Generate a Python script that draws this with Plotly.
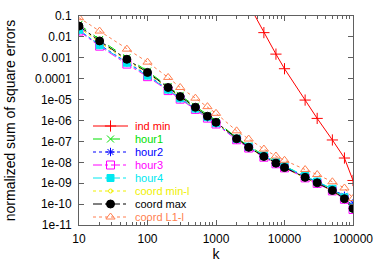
import plotly.graph_objects as go

k = [10, 20, 50, 100, 200, 300, 500, 750, 1000, 2000, 3000, 5000, 7500,
     10000, 20000, 30000, 50000, 75000, 100000]

k_ind = [3000, 5000, 7500, 10000, 20000, 30000, 50000, 75000, 100000]
ind_min = [0.36, 0.016, 1.5e-3, 3.0e-4, 9.5e-6, 1.26e-6, 1.17e-7, 1.6e-8, 1.35e-9]

hour1 = [4.0e-2, 7.5e-3, 1.0e-3, 2.3e-4, 4.2e-5, 1.6e-5, 4.8e-6, 1.8e-6, 9.5e-7,
         1.5e-7, 6.0e-8, 2.2e-8, 1.05e-8, 6.6e-9, 2.2e-9, 1.2e-9, 5.2e-10, 2.1e-10, 8.0e-11]
hour2 = [2.0e-2, 4.2e-3, 6.0e-4, 1.5e-4, 3.0e-5, 1.15e-5, 3.6e-6, 1.4e-6, 7.2e-7,
         1.25e-7, 5.0e-8, 1.85e-8, 9.5e-9, 6.0e-9, 2.0e-9, 1.15e-9, 5.2e-10, 2.5e-10, 1.1e-10]
hour3 = [1.9e-2, 3.6e-3, 5.0e-4, 1.25e-4, 2.7e-5, 1.05e-5, 3.4e-6, 1.3e-6, 6.8e-7,
         1.2e-7, 4.8e-8, 1.75e-8, 8.5e-9, 5.4e-9, 1.8e-9, 9.8e-10, 4.3e-10, 1.7e-10, 5.5e-11]
hour4 = [2.2e-2, 4.0e-3, 5.8e-4, 1.4e-4, 3.0e-5, 1.15e-5, 3.7e-6, 1.45e-6, 7.5e-7,
         1.35e-7, 5.6e-8, 2.1e-8, 1.0e-8, 6.5e-9, 2.2e-9, 1.2e-9, 5.4e-10, 2.1e-10, 6.8e-11]
coord_min_l = [2.8e-2, 5.5e-3, 7.5e-4, 1.8e-4, 3.5e-5, 1.3e-5, 4.0e-6, 1.5e-6, 7.8e-7,
               1.3e-7, 5.0e-8, 1.8e-8, 8.8e-9, 5.4e-9, 1.8e-9, 1.0e-9, 4.3e-10, 1.6e-10, 6.5e-11]
coord_max = [3.3e-2, 6.4e-3, 8.5e-4, 2.0e-4, 3.8e-5, 1.4e-5, 4.3e-6, 1.6e-6, 8.2e-7,
             1.35e-7, 5.2e-8, 1.9e-8, 9.1e-9, 5.6e-9, 1.9e-9, 1.04e-9, 4.5e-10, 1.8e-10, 6.2e-11]
coord_l1_l = [8.3e-2, 1.9e-2, 2.6e-3, 6.2e-4, 1.15e-4, 3.8e-5, 1.17e-5, 4.6e-6, 2.2e-6,
              3.2e-7, 1.3e-7, 4.3e-8, 2.0e-8, 1.25e-8, 4.5e-9, 2.6e-9, 1.17e-9, 5.9e-10, 1.85e-10]

x_tickvals = [10, 100, 1000, 10000, 100000]
x_ticktext = ["10", "100", "1000", "10000", "100000"]
x_minor_tickvals = [m * d for d in (10, 100, 1000, 10000) for m in range(2, 10)]
y_tickvals = [1e-1, 1e-2, 1e-3, 1e-4, 1e-5, 1e-6, 1e-7, 1e-8, 1e-9, 1e-10, 1e-11]
y_ticktext = ["0.1", "0.01", "0.001", "0.0001", "1e-05", "1e-06", "1e-07",
              "1e-08", "1e-09", "1e-10", "1e-11"]

series = [
    ("ind min", k_ind, ind_min, "#ff0000", "solid", "cross-thin-open", 8),
    ("hour1", k, hour1, "#00e000", "dash", "x-thin-open", 7),
    ("hour2", k, hour2, "#0000ff", "dot", "asterisk-open", 7),
    ("hour3", k, hour3, "#ff00ff", "dashdot", "square-open", 8),
    ("hour4", k, hour4, "#00e8f0", "dashdot", "square", 7),
    ("coord min-l", k, coord_min_l, "#f0f000", "dot", "circle-open", 4),
    ("coord max", k, coord_max, "#000000", "dashdot", "circle", 8),
    ("coord L1-l", k, coord_l1_l, "#ff7f50", "dot", "triangle-up-open", 8),
]

W, H = 374, 262
L, R, T, B = 79, 21, 16, 37
PW, PH = W - L - R, H - T - B

# legend layout (pixels inside the plot area)
LEG_X0, LEG_X1, LEG_TX = 14, 49, 55
LEG_Y0, LEG_DY = 110, 13

fig = go.Figure()
for i, (name, xs, ys, col, dash, sym, sz) in enumerate(series):
    fig.add_trace(go.Scatter(
        x=xs, y=ys, mode="lines+markers", name=name, showlegend=False,
        line=dict(color=col, width=1, dash=dash),
        marker=dict(symbol=sym, size=sz, color=col, line=dict(color=col, width=1)),
    ))
    # legend sample on an overlay axis measured in pixels
    ry = LEG_Y0 + i * LEG_DY
    fig.add_trace(go.Scatter(
        x=[LEG_X0, LEG_X1], y=[ry, ry], mode="lines", xaxis="x2", yaxis="y2",
        showlegend=False, hoverinfo="skip",
        line=dict(color=col, width=1, dash=dash),
    ))
    fig.add_trace(go.Scatter(
        x=[(LEG_X0 + LEG_X1) / 2], y=[ry], mode="markers", xaxis="x2", yaxis="y2",
        showlegend=False, hoverinfo="skip",
        marker=dict(symbol=sym, size=sz, color=col, line=dict(color=col, width=1)),
    ))
    fig.add_annotation(
        x=LEG_TX, y=ry, xref="x2", yref="y2", text=name, showarrow=False,
        xanchor="left", yanchor="middle", borderpad=0,
        font=dict(color=col, size=11),
    )

font_family = "Liberation Sans, Arial, sans-serif"
axcol = "#606060"
fig.update_layout(
    width=W, height=H,
    margin=dict(l=L, r=R, t=T, b=B),
    paper_bgcolor="white", plot_bgcolor="white",
    font=dict(family=font_family, size=12, color="#000000"),
    showlegend=False,
    xaxis=dict(type="log", range=[1, 5], tickvals=x_tickvals, ticktext=x_ticktext,
               ticks="inside", ticklen=5, tickcolor=axcol, showgrid=False,
               zeroline=False, showline=True, linecolor=axcol, linewidth=1,
               mirror="allticks", automargin=False, ticklabelstandoff=3,
               minor=dict(tickmode="array", tickvals=x_minor_tickvals,
                          ticks="inside", ticklen=3, tickcolor=axcol, showgrid=False),
               title=dict(text="k")),
    yaxis=dict(type="log", range=[-11, -1], tickvals=y_tickvals, ticktext=y_ticktext,
               ticks="inside", ticklen=5, tickcolor=axcol, showgrid=False,
               zeroline=False, showline=True, linecolor=axcol, linewidth=1,
               mirror="allticks", automargin=False, ticklabelstandoff=4,
               title=dict(text="normalized sum of square errors")),
    xaxis2=dict(overlaying="x", range=[0, PW], visible=False, fixedrange=True),
    yaxis2=dict(overlaying="y", range=[PH, 0], visible=False, fixedrange=True),
)

fig.write_html("out.html", config={"displayModeBar": False},
               post_script="document.body.style.margin='0';")
